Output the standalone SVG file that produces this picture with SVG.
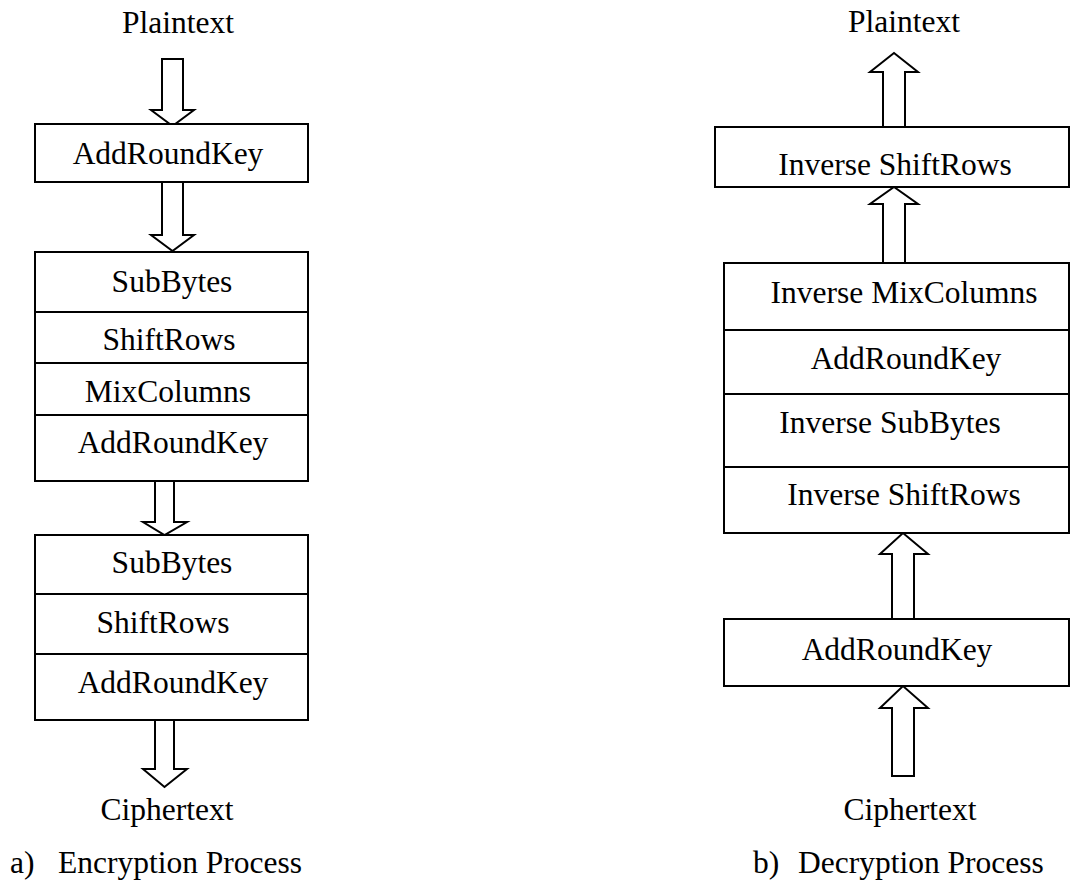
<svg xmlns="http://www.w3.org/2000/svg" width="1071" height="883" viewBox="0 0 1071 883">
<style>
.box{fill:#fff;stroke:#000;stroke-width:2}
.div{stroke:#000;stroke-width:2}
.arr{fill:#fff;stroke:#000;stroke-width:2;stroke-linejoin:miter}
text{font-family:"Liberation Serif","Times New Roman",serif;font-size:31.5px;fill:#000}
.c{text-anchor:middle}
</style>
<rect width="1071" height="883" fill="#fff"/>
<g id="connectors">
<polygon class="arr" points="162,59 183,59 183,110 194,110 172.5,126 151,110 162,110"/>
<polygon class="arr" points="162,182 183,182 183,235 194,235 172.5,251 151,235 162,235"/>
<polygon class="arr" points="155,481 174,481 174,522 187,522 164.5,535 143,522 155,522"/>
<polygon class="arr" points="155,720 174,720 174,769 187,769 164.5,787 143,769 155,769"/>
<polygon class="arr" points="883,127 905,127 905,72 918,72 894,53 870,72 883,72"/>
<polygon class="arr" points="883,263 905,263 905,204 918,204 894,187 870,204 883,204"/>
<polygon class="arr" points="892,619 914,619 914,554 928,554 903,533 880,554 892,554"/>
<polygon class="arr" points="892,776 914,776 914,708 928,708 903,686 880,708 892,708"/>
</g>
<g id="enc-plaintext"><text class="c" x="178" y="33">Plaintext</text></g>
<g id="enc-box1">
<rect class="box" x="35" y="124" width="273" height="58"/>
<text class="c" x="168" y="164">AddRoundKey</text>
</g>
<g id="enc-box2">
<rect class="box" x="35" y="252" width="273" height="229"/>
<line class="div" x1="35" y1="312" x2="308" y2="312"/>
<line class="div" x1="35" y1="363" x2="308" y2="363"/>
<line class="div" x1="35" y1="415" x2="308" y2="415"/>
<text class="c" x="172" y="292">SubBytes</text>
<text class="c" x="169" y="350">ShiftRows</text>
<text class="c" x="168" y="402">MixColumns</text>
<text class="c" x="173" y="453">AddRoundKey</text>
</g>
<g id="enc-box3">
<rect class="box" x="35" y="535" width="273" height="185"/>
<line class="div" x1="35" y1="594" x2="308" y2="594"/>
<line class="div" x1="35" y1="654" x2="308" y2="654"/>
<text class="c" x="172" y="573">SubBytes</text>
<text class="c" x="163" y="633">ShiftRows</text>
<text class="c" x="173" y="693">AddRoundKey</text>
</g>
<g id="enc-ciphertext"><text class="c" x="167" y="820">Ciphertext</text></g>
<g id="enc-caption"><text x="10" y="873">a)</text><text x="58" y="873">Encryption Process</text></g>

<g id="dec-plaintext"><text class="c" x="904" y="32">Plaintext</text></g>
<g id="dec-box1">
<rect class="box" x="715" y="127" width="354" height="60"/>
<text class="c" x="895" y="175">Inverse ShiftRows</text>
</g>
<g id="dec-box2">
<rect class="box" x="724" y="263" width="345" height="270"/>
<line class="div" x1="724" y1="330" x2="1069" y2="330"/>
<line class="div" x1="724" y1="394" x2="1069" y2="394"/>
<line class="div" x1="724" y1="467" x2="1069" y2="467"/>
<text class="c" x="904" y="303">Inverse MixColumns</text>
<text class="c" x="906" y="369">AddRoundKey</text>
<text class="c" x="890" y="433">Inverse SubBytes</text>
<text class="c" x="904" y="505">Inverse ShiftRows</text>
</g>
<g id="dec-box3">
<rect class="box" x="724" y="619" width="345" height="67"/>
<text class="c" x="897" y="660">AddRoundKey</text>
</g>
<g id="dec-ciphertext"><text class="c" x="910" y="820">Ciphertext</text></g>
<g id="dec-caption"><text x="753" y="873">b)</text><text x="798" y="873">Decryption Process</text></g>
</svg>
